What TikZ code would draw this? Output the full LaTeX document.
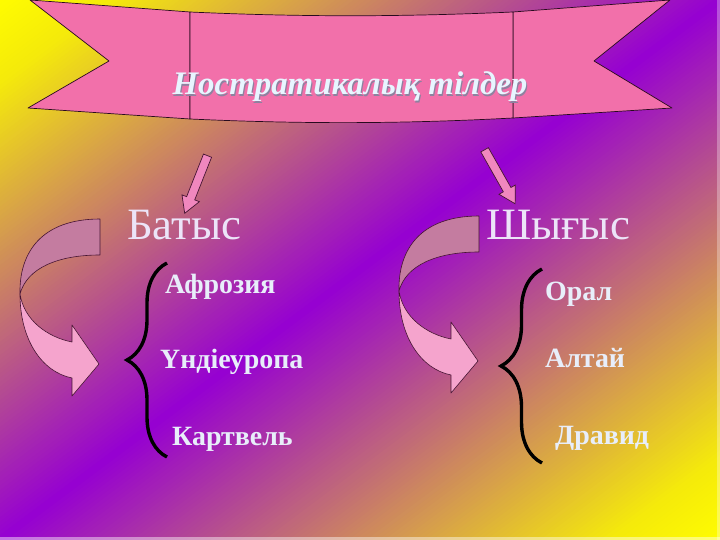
\documentclass[tikz,border=0pt]{standalone}
\usepackage{fontspec}
\setmainfont{Liberation Serif}
\usetikzlibrary{shapes.arrows,decorations.pathreplacing,calc}
\definecolor{bgY0}{RGB}{255,252,0}
\definecolor{bgY1}{RGB}{245,235,10}
\definecolor{bgP}{RGB}{150,0,210}
\definecolor{bannerpink}{RGB}{242,112,170}
\definecolor{bannerline}{RGB}{40,10,30}
\definecolor{cadark}{RGB}{196,124,160}
\definecolor{calight}{RGB}{245,164,205}
\definecolor{arrpink}{RGB}{240,135,190}
\definecolor{outl}{RGB}{70,20,50}
\definecolor{txt}{RGB}{232,238,250}
\definecolor{headtxt}{RGB}{236,228,248}
\definecolor{titletxt}{RGB}{232,245,255}
\definecolor{titleshadow}{RGB}{140,130,160}
\tikzset{
  lbl/.style={font=\fontsize{28}{32}\selectfont\bfseries, text=txt, anchor=base west, inner sep=0pt},
  headword/.style={font=\fontsize{45}{50}\selectfont, text=headtxt, anchor=base west, inner sep=0pt},
  titlestyle/.style={font=\fontsize{33}{40}\selectfont\bfseries\itshape, anchor=base, inner sep=0pt},
  banner/.style={fill=bannerpink, draw=bannerline, line width=0.7bp, line join=round},
  bracestyle/.style={draw=black, line width=3.4bp, decorate, decoration={brace, amplitude=40bp}},
  downarrow/.style={single arrow, draw=outl, fill=arrpink, line width=0.7bp, minimum height=62bp,
    inner sep=4bp, single arrow head extend=5bp, single arrow tip angle=60},
  curvarrow/.pic={
    \filldraw[fill=cadark, draw=outl, line width=0.6bp, line join=round]
      (100,219) .. controls (42,219) and (19,252) .. (20,294)
      .. controls (27,268) and (58,255) .. (100,255) -- cycle;
    \filldraw[fill=calight, draw=outl, line width=0.6bp, line join=round]
      (20,294) .. controls (20,340) and (42,372) .. (72,378)
      -- (72,396) -- (99,364) -- (72,325) -- (72,342)
      .. controls (47,337) and (24,320) .. (20,294) -- cycle;
  }
}
\begin{document}
\begin{tikzpicture}[x=1bp,y=-1bp]
\useasboundingbox (0,0) rectangle (720,540);
% diagonal gradient background: yellow - purple - yellow
\begin{scope}
\clip (0,0) rectangle (720,540);
\foreach \i in {0,...,239}{
  \pgfmathsetmacro\t{\i/120}
  \pgfmathsetmacro\u{(\t+1/240)<=1 ? (\t+1/240) : 2-(\t+1/240)}
  \pgfmathsetmacro\f{max(0,(\u-0.15)/0.85*100)}
  \pgfmathsetmacro\g{min(100,\u/0.15*100)}
  \colorlet{tmpc}{bgY1!\g!bgY0}
  \colorlet{cc}{bgP!\f!tmpc}
  \pgfmathsetmacro\xa{720*\t}
  \fill[cc] (\xa-1440,1080) -- (\xa+1440,-1080) -- (\xa+2640,520) -- (\xa-240,2680) -- cycle;
}
\end{scope}
\fill[white, opacity=0.45] (0,537) rectangle (720,540);
\fill[white, opacity=0.3] (717,0) rectangle (720,540);

% banner
\path[banner] (30,0) -- (190,12) -- (190,119) -- (28,108) -- (109,61) -- cycle;
\path[banner] (513,12) -- (670,0) -- (594,61) -- (672,108) -- (513,118) -- cycle;
\path[banner] (190,12) .. controls (300,17) and (400,17) .. (513,12) -- (513,118)
  .. controls (400,124) and (300,124) .. (190,119) -- cycle;
\node[titlestyle, text=titleshadow] at (351,96.5) {Ностратикалық тілдер};
\node[titlestyle, text=titletxt] (title) at (350,95) {Ностратикалық тілдер};

% down arrows
\node[downarrow, rotate=248.4] (arrL) at (197.5,181) {};
\node[downarrow, rotate=299.5] (arrR) at (498,173.5) {};

% headings
\node[headword] (west) at (127,240) {Батыс};
\node[headword] (east) at (486,240) {Шығыс};

% curved arrows
\pic (cL) at (0,0) {curvarrow};
\pic (cR) at (379,-3) {curvarrow};

% braces
\coordinate (bLt) at (167,263);
\coordinate (bLb) at (167,457);
\coordinate (bRt) at (542,269);
\coordinate (bRb) at (542,463);
\draw[bracestyle] (bLb) -- (bLt);
\draw[bracestyle, decoration={brace, amplitude=41bp}] (bRb) -- (bRt);

% lists
\node[lbl] (w1) at (165,293) {Афрозия};
\node[lbl] (w2) at (160,368) {Үндіеуропа};
\node[lbl] (w3) at (172,445) {Картвель};
\node[lbl] (e1) at (545,300) {Орал};
\node[lbl] (e2) at (545,367) {Алтай};
\node[lbl] (e3) at (555,444) {Дравид};
\end{tikzpicture}
\end{document}
